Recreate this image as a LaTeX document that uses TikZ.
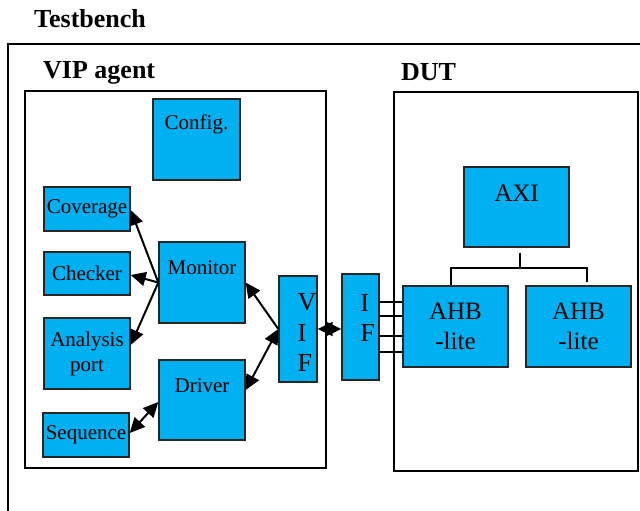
\documentclass[tikz,border=0pt]{standalone}
\usepackage{fontspec}
\setmainfont{Liberation Serif}
\usetikzlibrary{arrows.meta}
\definecolor{blockfill}{RGB}{0,176,240}
\begin{document}
\begin{tikzpicture}[x=1pt,y=-1pt,
  block/.style={draw=black!85, line width=1.4pt, fill=blockfill, inner sep=0pt,
    align=center, font=\fontsize{21}{25}\selectfont},
  dutblock/.style={block, font=\fontsize{25}{30}\selectfont},
  intext/.style={anchor=base, inner sep=0pt, font=\fontsize{21}{25}\selectfont},
  duttext/.style={anchor=base, inner sep=0pt, font=\fontsize{25}{30}\selectfont},
  sidetext/.style={anchor=center, inner sep=0pt, align=left, font=\fontsize{26}{30.5}\selectfont},
  frame/.style={draw=black, line width=1.6pt},
  title/.style={anchor=base west, inner sep=0pt, font=\bfseries\fontsize{26}{30}\selectfont},
  link/.style={line width=2pt, -{Triangle[length=15pt,width=14pt]}},
  dlink/.style={line width=2pt, {Triangle[length=15pt,width=14pt]}-{Triangle[length=15pt,width=14pt]}},
  bus/.style={line width=1.8pt}]
\useasboundingbox (0,0) rectangle (640,511);
\clip (0,0) rectangle (640,511);

% enclosing frames and their titles
\draw[frame] (8,520) -- (8,44) -- (650,44);
\node[title] (tbtitle) at (34,28) {Testbench};
\draw[frame] (25,91) rectangle (326,468);
\node[title] (viptitle) at (43,78) {VIP agent};
\draw[frame] (394,92) rectangle (638,471);
\node[title] (duttitle) at (401,81) {DUT};

% VIP agent components
\node[block, minimum width=87pt, minimum height=81pt] (cfg) at (196.5,139.5) {};
\node[intext] (cfgtext) at ([yshift=-31pt]cfg.north) {Config.};
\node[block, minimum width=86pt, minimum height=44pt] (cov) at (87,209) {Coverage};
\node[block, minimum width=86pt, minimum height=43pt] (chk) at (87,273.5) {Checker};
\node[block, minimum width=86pt, minimum height=71pt] (ana) at (87,353.5) {Analysis\\port};
\node[block, minimum width=86pt, minimum height=44pt] (seq) at (86,435) {Sequence};
\node[block, minimum width=86pt, minimum height=81pt] (mon) at (202,282.5) {};
\node[intext] (montext) at ([yshift=-33pt]mon.north) {Monitor};
\node[block, minimum width=86pt, minimum height=80pt] (drv) at (202,400) {};
\node[intext] (drvtext) at ([yshift=-33pt]drv.north) {Driver};
\node[block, minimum width=38pt, minimum height=106pt] (vif) at (298,329) {};
\node[sidetext] (viftext) at ([xshift=9pt,yshift=-3.5pt]vif.center) {V\\I\\F};

% DUT components
\node[block, minimum width=37pt, minimum height=106pt] (if) at (360.5,327) {};
\node[sidetext] (iftext) at ([xshift=7pt,yshift=9pt]if.center) {I\\F};
\node[block, minimum width=105pt, minimum height=80pt] (axi) at (516.5,207) {};
\node[duttext] (axitext) at ([yshift=-35pt]axi.north) {AXI};
\node[dutblock, minimum width=105pt, minimum height=81pt] (ahba) at (455.5,326.5) {AHB\\-lite};
\node[dutblock, minimum width=105pt, minimum height=81pt] (ahbb) at (578.5,326.5) {AHB\\-lite};

% monitor fan-out to the analysis components
\draw[link] (mon.west) -- ([yshift=-1pt]cov.east);
\draw[link] (mon.west) -- ([yshift=-1.5pt]chk.east);
\draw[link] (mon.west) -- ([yshift=8.5pt]ana.east);

% virtual interface links
\draw[link] (vif.west) -- (mon.east);
\draw[dlink] ([yshift=10pt]drv.east) -- (vif.west);
\draw[dlink] ([yshift=2pt]seq.east) -- ([yshift=-2pt]drv.west);
\draw[dlink] (vif.east) -- (vif.east -| if.west);

% interface signal lines into the first AHB-lite block
\foreach \d [count=\i] in {24.5,10.5,-9.5,-25.5} {
  \coordinate (sig\i) at ([yshift=\d pt]ahba.west);
  \draw[bus] (sig\i) -- (sig\i -| if.east);
}

% AXI to AHB-lite tree
\coordinate (tj) at ([xshift=3.5pt,yshift=-20pt]axi.south);
\draw[bus] ([xshift=3.5pt,yshift=-5pt]axi.south) -- (tj);
\draw[bus] ([xshift=-4.5pt]ahba.north) |- (tj) -| ([xshift=8.5pt,yshift=3pt]ahbb.north);
\end{tikzpicture}
\end{document}
